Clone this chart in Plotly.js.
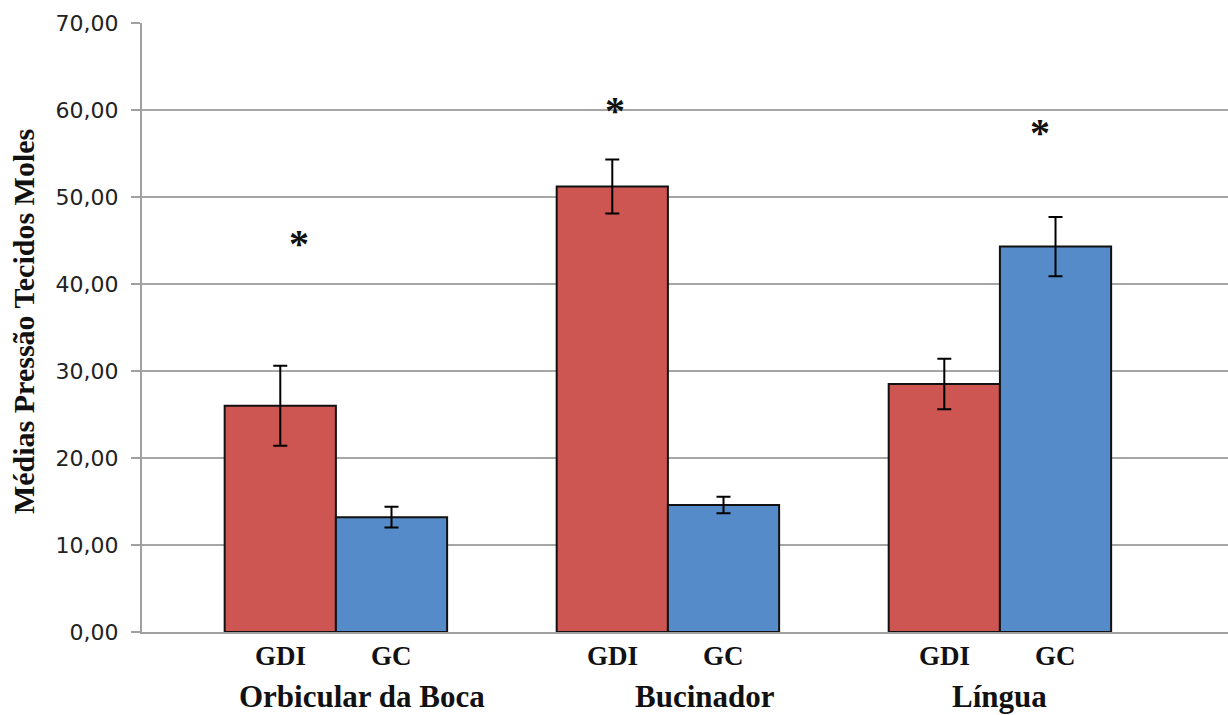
<!DOCTYPE html>
<html>
<head>
<meta charset="utf-8">
<script src="https://cdn.plot.ly/plotly-3.0.1.min.js"></script>
<style>html,body{margin:0;padding:0;background:#fff;}</style>
</head>
<body>
<div id="chart" style="width:1228px;height:715px;"></div>
<script>
// ---- data ----
var groups = ["Orbicular da Boca", "Bucinador", "Língua"];
var seriesNames = ["GDI", "GC"];
var gdiValues = [26.0, 51.2, 28.5];
var gdiErrors = [4.6, 3.1, 2.9];
var gcValues = [13.2, 14.6, 44.3];
var gcErrors = [1.2, 0.95, 3.4];
var yTickVals = [0, 10, 20, 30, 40, 50, 60, 70];
var sigLabel = "*";
var sigY = [44.6, 59.9, 57.4];

// ---- layout helpers (positions/styles) ----
var xIdx = groups.map(function (_, i) { return i; });
var barHalf = 0.1675;
var sigOffset = [-0.11, -0.16, 0.12];
var groupLabelOffset = [0.078, 0.112, 0.0];

var red = "#CD5552";
var blue = "#568BC9";

var traces = [
  {
    type: "bar", name: seriesNames[0], x: xIdx, y: gdiValues,
    marker: { color: red, line: { color: "#111", width: 2 } },
    error_y: { type: "data", array: gdiErrors, visible: true, color: "#000", thickness: 2, width: 7 }
  },
  {
    type: "bar", name: seriesNames[1], x: xIdx, y: gcValues,
    marker: { color: blue, line: { color: "#111", width: 2 } },
    error_y: { type: "data", array: gcErrors, visible: true, color: "#000", thickness: 2, width: 7 }
  }
];

var annotations = [];
var serif = "Liberation Serif, Times New Roman, serif";
xIdx.forEach(function (i) {
  annotations.push({ xref: "x", yref: "paper", x: i - barHalf, y: -0.04, yanchor: "middle", xanchor: "center",
    text: "<b>" + seriesNames[0] + "</b>", showarrow: false, font: { family: serif, size: 27, color: "#111" } });
  annotations.push({ xref: "x", yref: "paper", x: i + barHalf, y: -0.04, yanchor: "middle", xanchor: "center",
    text: "<b>" + seriesNames[1] + "</b>", showarrow: false, font: { family: serif, size: 27, color: "#111" } });
  annotations.push({ xref: "x", yref: "paper", x: i + groupLabelOffset[i], y: -0.106, yanchor: "middle", xanchor: "center",
    text: "<b>" + groups[i] + "</b>", showarrow: false, font: { family: serif, size: 31, color: "#111" } });
  annotations.push({ xref: "x", yref: "y", x: i + sigOffset[i], y: sigY[i], yanchor: "middle", xanchor: "center",
    text: "<b>" + sigLabel + "</b>", showarrow: false, font: { family: serif, size: 40, color: "#111" } });
});
annotations.push({ xref: "paper", yref: "paper", x: -0.109, y: 0.51, xanchor: "center", yanchor: "middle",
  textangle: -90, text: "<b>Médias Pressão Tecidos Moles</b>", showarrow: false,
  font: { family: serif, size: 30, color: "#111" } });

var layout = {
  width: 1228, height: 715,
  margin: { l: 142, r: 0, t: 23, b: 83 },
  paper_bgcolor: "#fff", plot_bgcolor: "#fff",
  separators: ",.",
  showlegend: false,
  barmode: "group", bargap: 0.33, bargroupgap: 0,
  xaxis: {
    type: "linear", range: [-0.584, 2.687], showticklabels: false, showgrid: false,
    zeroline: false, showline: true, linecolor: "#A0A0A0", linewidth: 2, ticks: ""
  },
  yaxis: {
    range: [0, 70], tickvals: yTickVals, tickformat: ".2f",
    showgrid: true, gridcolor: "#A6A6A6", gridwidth: 2,
    zeroline: false, showline: true, linecolor: "#A0A0A0", linewidth: 2,
    ticks: "outside", ticklen: 9, tickwidth: 2, tickcolor: "#A0A0A0",
    ticklabelstandoff: 8,
    tickfont: { family: "DejaVu Sans, sans-serif", size: 22, color: "#222" }
  },
  annotations: annotations
};

Plotly.newPlot("chart", traces, layout, { staticPlot: true, displayModeBar: false });
</script>
</body>
</html>
